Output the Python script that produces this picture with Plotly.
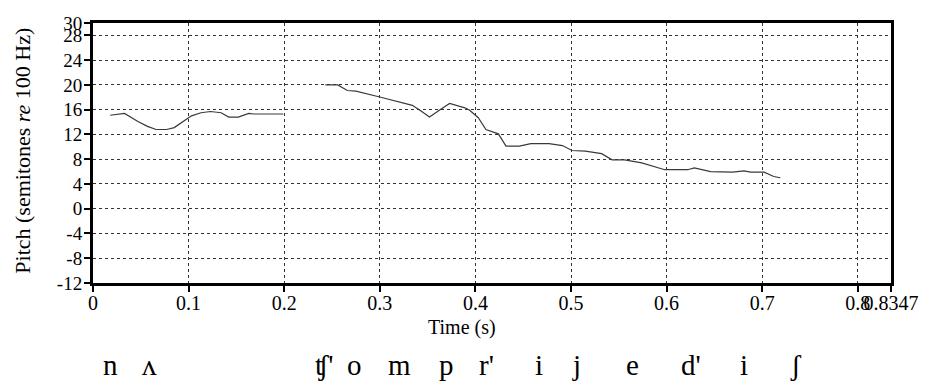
import plotly.graph_objects as go

# First voiced stretch (time in s, pitch in semitones re 100 Hz)
time_1 = [0.018, 0.033, 0.047, 0.057, 0.066, 0.077, 0.085, 0.093, 0.103, 0.113,
          0.123, 0.134, 0.142, 0.152, 0.163, 0.168, 0.185, 0.199]
pitch_1 = [15.1, 15.4, 14.1, 13.3, 12.8, 12.8, 13.1, 13.9, 15.0, 15.5,
           15.7, 15.5, 14.8, 14.8, 15.4, 15.3, 15.3, 15.3]

# Second voiced stretch
time_2 = [0.243, 0.256, 0.266, 0.275, 0.301, 0.323, 0.334, 0.342, 0.352, 0.363,
          0.373, 0.389, 0.394, 0.403, 0.411, 0.424, 0.432, 0.446, 0.458, 0.477,
          0.491, 0.501, 0.515, 0.532, 0.543, 0.556, 0.574, 0.598, 0.622, 0.629,
          0.636, 0.646, 0.669, 0.681, 0.688, 0.702, 0.712, 0.719]
pitch_2 = [20.0, 20.0, 19.1, 19.0, 18.0, 17.2, 16.7, 15.9, 14.8, 16.0,
           17.0, 16.3, 15.9, 14.7, 12.8, 12.1, 10.1, 10.1, 10.5, 10.5,
           10.2, 9.4, 9.3, 8.9, 7.9, 7.9, 7.4, 6.3, 6.3, 6.6,
           6.4, 6.0, 5.9, 6.1, 5.9, 5.9, 5.2, 5.0]

x_tickvals = [0, 0.1, 0.2, 0.3, 0.4, 0.5, 0.6, 0.7, 0.8, 0.8347]
x_ticktext = ["0", "0.1", "0.2", "0.3", "0.4", "0.5", "0.6", "0.7", "0.8", "0.8347"]
y_tickvals = [-12, -8, -4, 0, 4, 8, 12, 16, 20, 24, 28, 30]
y_ticktext = ["-12", "-8", "-4", "0", "4", "8", "12", "16", "20", "24", "28", "30"]

# Phone transcription labels and their approximate times (s)
phones = ["n", "ʌ", "ʧ'", "o", "m", "p", "r'", "i", "j", "e", "d'", "i", "ʃ"]
phone_times = [0.018, 0.059, 0.242, 0.274, 0.321, 0.370, 0.412, 0.466, 0.506,
               0.564, 0.626, 0.681, 0.735]

FONT = "Liberation Serif"
LINE_COLOR = "#3a3a3a"

fig = go.Figure()
fig.add_trace(go.Scatter(x=time_1, y=pitch_1, mode="lines",
                         line=dict(color=LINE_COLOR, width=1.2), showlegend=False))
fig.add_trace(go.Scatter(x=time_2, y=pitch_2, mode="lines",
                         line=dict(color=LINE_COLOR, width=1.2), showlegend=False))

fig.update_layout(
    width=931, height=390,
    margin=dict(l=93, r=31, t=23, b=107),
    paper_bgcolor="white", plot_bgcolor="white",
    font=dict(family=FONT, color="black"),
    showlegend=False,
)

fig.update_xaxes(
    range=[0, 0.8347], tickmode="array", tickvals=x_tickvals, ticktext=x_ticktext,
    tickangle=0, ticklabelstandoff=-6,
    showline=True, linewidth=3, linecolor="black", mirror=True,
    ticks="outside", ticklen=6, tickwidth=2, tickcolor="black",
    tickfont=dict(family=FONT, size=20, color="black"),
    showgrid=True, gridcolor="#333333", gridwidth=1, griddash="dot",
    zeroline=False,
)
fig.update_yaxes(
    range=[-12, 30], tickmode="array", tickvals=y_tickvals, ticktext=y_ticktext,
    ticklabelstandoff=-2,
    showline=True, linewidth=3, linecolor="black", mirror=True,
    ticks="outside", ticklen=6, tickwidth=2, tickcolor="black",
    tickfont=dict(family=FONT, size=19, color="black"),
    showgrid=True, gridcolor="#333333", gridwidth=1, griddash="dot",
    zeroline=False,
)

# Axis titles as annotations for precise placement
fig.add_annotation(text="Pitch (semitones <i>re</i> 100 Hz)", xref="paper", yref="paper",
                   x=-0.088, y=0.508, textangle=-90, showarrow=False,
                   xanchor="center", yanchor="middle",
                   font=dict(family=FONT, size=22, color="black"))
fig.add_annotation(text="Time (s)", xref="paper", yref="paper",
                   x=0.462, y=-0.172, showarrow=False,
                   xanchor="center", yanchor="middle",
                   font=dict(family=FONT, size=20, color="black"))

for ph, t in zip(phones, phone_times):
    fig.add_annotation(text=ph, x=t, xref="x", y=-0.315, yref="paper",
                       showarrow=False, xanchor="center", yanchor="middle",
                       font=dict(family=FONT, size=29, color="black"))

fig.write_html("out.html")
